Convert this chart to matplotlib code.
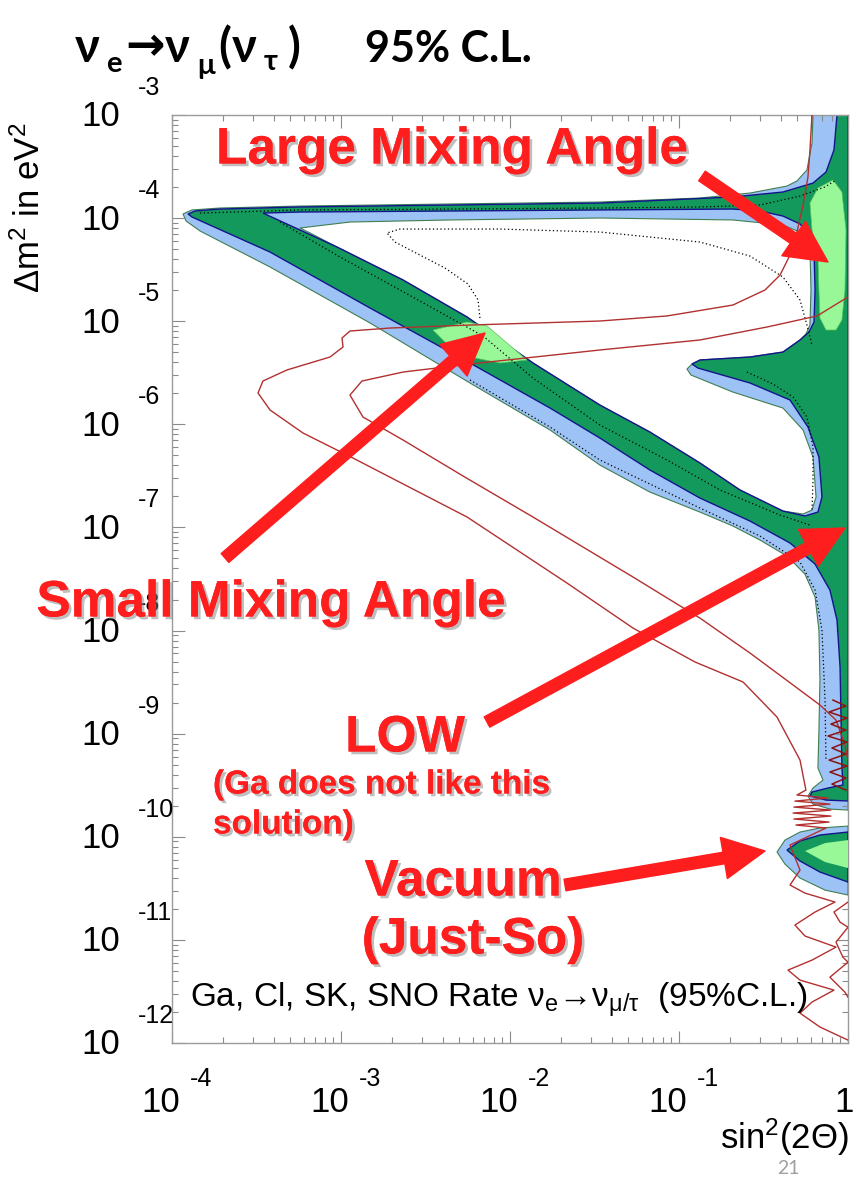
import numpy as np
import matplotlib
matplotlib.use('Agg')
import matplotlib.pyplot as plt
import matplotlib.patheffects as pe
import matplotlib.transforms as mtransforms
from matplotlib.patches import FancyArrowPatch

plt.rcParams['mathtext.fontset'] = 'custom'
plt.rcParams['mathtext.rm'] = 'Liberation Sans'
plt.rcParams['mathtext.it'] = 'Liberation Sans:italic'
plt.rcParams['mathtext.bf'] = 'Liberation Sans:bold'

W, H = 861, 1179

# decades shown on the axes
x_exp = [-4, -3, -2, -1]
y_exp = [-3, -4, -5, -6, -7, -8, -9, -10, -11, -12]

# all contours below are log10(sin^2 2theta), log10(dm^2 / eV^2)
# outer (blue) allowed region
blue_lx = [-0.207, -0.213, -0.243, -0.302, -0.361, -0.580, -0.876, -1.468, -2.355, -3.243,
           -3.716, -3.882, -3.935, -3.917, -3.834, -3.420, -2.828, -2.237, -1.763, -1.468,
           -1.172, -0.876, -0.681, -0.521, -0.361, -0.255, -0.195, -0.172, -0.166, -0.172,
           -0.178, -0.148, -0.207, -0.237, -0.207, -0.107, 0.0, 0.0]
blue_ly = [-3.000, -3.272, -3.533, -3.640, -3.689, -3.757, -3.805, -3.844, -3.863, -3.883,
           -3.902, -3.921, -3.960, -4.028, -4.125, -4.474, -5.017, -5.599, -6.055, -6.395,
           -6.657, -6.851, -6.986, -7.122, -7.277, -7.452, -7.675, -7.995, -8.480, -8.965,
           -9.333, -9.450, -9.527, -9.605, -9.683, -9.731, -9.741, -3.000]

# middle (dark green) region
green_lx = [-0.065, -0.083, -0.130, -0.207, -0.385, -0.681, -1.468, -2.355, -3.243, -3.716,
            -3.864, -3.905, -3.882, -3.420, -2.828, -2.237, -1.763, -1.468, -1.172, -0.876,
            -0.580, -0.343, -0.195, -0.107, -0.065, -0.047, -0.036, -0.030, -0.118, -0.213,
            -0.225, -0.130, 0.0, 0.0]
green_ly = [-3.000, -3.339, -3.553, -3.660, -3.747, -3.795, -3.854, -3.873, -3.892, -3.912,
            -3.931, -3.960, -3.989, -4.329, -4.872, -5.405, -5.842, -6.133, -6.443, -6.715,
            -6.938, -7.151, -7.355, -7.607, -7.898, -8.354, -9.324, -9.498, -9.527, -9.566,
            -9.605, -9.644, -9.653, -3.000]

# hole of the green region (shows blue)
ghole_lx = [-3.462, -3.243, -2.355, -1.468, -0.681, -0.521, -0.385, -0.284, -0.225, -0.201,
            -0.195, -0.201, -0.231, -0.284, -0.385, -0.580, -0.876, -0.923, -0.888, -0.580,
            -0.343, -0.237, -0.172, -0.154, -0.178, -0.255, -0.385, -0.639, -0.876, -1.172,
            -1.468, -1.864, -2.254, -2.633, -3.024, -3.243]
ghole_ly = [-3.951, -3.941, -3.931, -3.921, -3.912, -3.931, -3.980, -4.057, -4.174, -4.329,
            -4.697, -5.008, -5.105, -5.182, -5.299, -5.347, -5.376, -5.415, -5.454, -5.599,
            -5.764, -6.026, -6.317, -6.705, -6.851, -6.889, -6.841, -6.637, -6.375, -6.075,
            -5.813, -5.405, -4.959, -4.600, -4.280, -4.115]

# hole of the blue region (excluded, white)
bhole_lx = [-3.243, -2.947, -2.355, -1.468, -0.681, -0.385, -0.272, -0.225, -0.219, -0.225,
            -0.249, -0.284, -0.385, -0.580, -0.876, -0.923, -0.953, -0.929, -0.681, -0.385,
            -0.266, -0.207, -0.189, -0.213, -0.266, -0.385, -0.639, -0.876, -1.172, -1.468,
            -1.864, -2.254, -2.633, -3.024, -3.183]
bhole_ly = [-4.096, -4.038, -4.018, -3.999, -4.018, -4.067, -4.144, -4.309, -4.697, -5.037,
            -5.124, -5.182, -5.299, -5.347, -5.376, -5.415, -5.464, -5.522, -5.687, -5.842,
            -6.055, -6.317, -6.705, -6.831, -6.870, -6.841, -6.637, -6.375, -6.075, -5.813,
            -5.405, -4.959, -4.600, -4.280, -4.144]

# best-fit (light green) islands
lma_lx = [-0.089, -0.178, -0.225, -0.213, -0.178, -0.172, -0.166, -0.130, -0.071, -0.036,
          -0.018, -0.012, -0.036]
lma_ly = [-3.630, -3.708, -3.854, -4.115, -4.358, -4.697, -4.969, -5.085, -5.085, -4.988,
          -4.697, -4.115, -3.747]
sma_lx = [-2.456, -2.254, -2.136, -1.900, -2.059, -2.237, -2.355]
sma_ly = [-5.085, -5.008, -5.046, -5.376, -5.405, -5.347, -5.250]

# vacuum (just-so) island
vac_blue_lx = [-0.420, -0.373, -0.284, -0.166, 0.0, 0.0, -0.136, -0.284, -0.373]
vac_blue_ly = [-10.148, -10.032, -9.954, -9.915, -9.896, -10.565, -10.517, -10.400, -10.265]
vac_green_lx = [-0.361, -0.284, -0.166, 0.0, 0.0, -0.166, -0.284]
vac_green_ly = [-10.129, -10.041, -9.983, -9.954, -10.439, -10.342, -10.235]
vac_light_lx = [-0.254, -0.136, 0.0, 0.0, -0.136]
vac_light_ly = [-10.138, -10.061, -10.032, -10.303, -10.245]

# Ga rate contours (thin red)
ga1_lx = [-0.213, -0.225, -0.237, -0.266, -0.302, -0.343, -0.402, -0.491, -0.681, -1.071,
          -1.468, -2.237, -2.710, -2.947, -2.994, -2.988, -3.065, -3.320, -3.462, -3.491,
          -3.420, -3.225, -2.929, -2.254, -1.663, -1.272, -0.905, -0.621, -0.420, -0.284,
          -0.249, -0.302, -0.118, -0.314, -0.107, -0.320, -0.101, -0.325, -0.101, -0.320,
          -0.112, -0.308, -0.130, -0.343, -0.284, -0.343, -0.255, -0.077, -0.195, -0.314,
          -0.254, -0.071, -0.213, -0.355, -0.284, -0.083, -0.213, -0.284, -0.166, 0.0]
ga1_ly = [-3.000, -3.339, -3.601, -3.873, -4.135, -4.358, -4.552, -4.697, -4.843, -4.949,
          -4.998, -5.037, -5.066, -5.095, -5.163, -5.250, -5.347, -5.473, -5.580, -5.696,
          -5.861, -6.084, -6.327, -6.899, -7.539, -7.976, -8.305, -8.499, -8.839, -9.256,
          -9.547, -9.595, -9.624, -9.654, -9.683, -9.712, -9.741, -9.770, -9.799, -9.828,
          -9.857, -9.886, -9.915, -10.080, -10.323, -10.468, -10.546, -10.633, -10.730, -10.856,
          -10.963, -11.070, -11.196, -11.293, -11.390, -11.487, -11.603, -11.710, -11.845, -11.972]
ga2_lx = [0.0, -0.183, -0.479, -0.876, -1.468, -2.237, -2.633, -2.876, -2.947, -2.870,
          -2.633, -2.278, -1.864, -1.272, -0.876, -0.580, -0.325, -0.166, -0.071, -0.018, 0.0]
ga2_ly = [-4.765, -4.949, -5.056, -5.182, -5.279, -5.415, -5.493, -5.580, -5.716, -5.929,
          -6.152, -6.501, -6.899, -7.481, -7.879, -8.218, -8.528, -8.722, -8.868, -9.110, -9.256]
ga3_lx = [-0.089, -0.012, -0.112, -0.006, -0.101, -0.012, -0.118, -0.006, -0.095, -0.012,
          -0.112, -0.006, -0.107, -0.012, -0.095, -0.012]
ga3_ly = [-8.674, -8.732, -8.790, -8.849, -8.907, -8.965, -9.023, -9.081, -9.139, -9.198,
          -9.256, -9.314, -9.372, -9.430, -9.489, -9.547]
ga4_lx = [0.0, -0.083, -0.047, 0.0, -0.071, -0.030, 0.0, -0.107, -0.018, 0.0]
ga4_ly = [-10.633, -10.730, -10.828, -10.877, -11.022, -11.168, -11.216, -11.362, -11.507, -11.556]

# dotted contours
dot1_lx = [-2.178, -2.189, -2.249, -2.385, -2.533, -2.681, -2.728, -2.651, -2.059, -1.468,
           -0.876, -0.580, -0.385, -0.284, -0.243, -0.213]
dot1_ly = [-4.969, -4.794, -4.639, -4.484, -4.358, -4.232, -4.144, -4.106, -4.106, -4.135,
           -4.232, -4.368, -4.571, -4.794, -5.037, -5.231]
dot2_lx = [-3.834, -3.243, -2.355, -1.468, -0.876, -0.521, -0.284, -0.136, -0.071]
dot2_ly = [-3.951, -3.921, -3.912, -3.902, -3.892, -3.873, -3.786, -3.698, -3.630]
dot3_lx = [-3.361, -3.006, -2.651, -2.160, -1.864, -1.468, -1.071, -0.757, -0.402, -0.225]
dot3_ly = [-4.038, -4.377, -4.697, -5.143, -5.551, -6.007, -6.346, -6.637, -6.880, -6.977]
dot4_lx = [-0.598, -0.444, -0.325, -0.243, -0.207, -0.207, -0.213]
dot4_ly = [-5.493, -5.609, -5.735, -5.929, -6.220, -6.540, -6.831]
dot5_lx = [-2.237, -1.763, -1.468, -0.876, -0.521, -0.284, -0.195, -0.154, -0.136, -0.130]
dot5_ly = [-5.570, -6.026, -6.346, -6.812, -7.083, -7.335, -7.607, -7.995, -8.674, -9.256]

BLUE = '#9dc2f5'
GREEN = '#13995c'
LIGHT = '#98f898'
NAVY = '#14148c'
RIM = '#3f7f50'
RED_LINE = '#b23030'
DARK_RED = '#8c1212'
RED = '#ff1e1e'


def fx(px):
    return px / W


def fy(py):
    return 1 - py / H


def region(ax, lx, ly, face, edge='none', lw=0.8, z=1, fill=True):
    x = 10.0 ** np.asarray(lx)
    y = 10.0 ** np.asarray(ly)
    if fill:
        ax.fill(x, y, facecolor=face, edgecolor=edge, lw=lw, zorder=z)
    else:
        ax.fill(x, y, facecolor='none', edgecolor=edge, lw=lw, zorder=z)


def curve(ax, lx, ly, **kw):
    ax.plot(10.0 ** np.asarray(lx), 10.0 ** np.asarray(ly), **kw)


def main():
    fig = plt.figure(figsize=(W / 100, H / 100), dpi=100)
    ax = fig.add_axes([172 / W, 1 - 1043 / H, 676 / W, 928 / H])
    ax.set_xscale('log')
    ax.set_yscale('log')
    ax.set_xlim(1e-4, 1)
    ax.set_ylim(1e-12, 1e-3)

    # filled regions, layered
    region(ax, blue_lx, blue_ly, BLUE, RIM, 0.8, 1)
    region(ax, green_lx, green_ly, GREEN, NAVY, 1.0, 2)
    region(ax, ghole_lx, ghole_ly, BLUE, 'none', 0, 3)
    region(ax, bhole_lx, bhole_ly, 'white', 'none', 0, 4)
    region(ax, bhole_lx, bhole_ly, None, RIM, 0.8, 4.1, fill=False)
    region(ax, ghole_lx, ghole_ly, None, NAVY, 1.0, 4.2, fill=False)
    region(ax, lma_lx, lma_ly, LIGHT, '#5cc45c', 0.5, 5)
    region(ax, sma_lx, sma_ly, LIGHT, '#5cc45c', 0.5, 5)
    region(ax, vac_blue_lx, vac_blue_ly, BLUE, RIM, 0.8, 5)
    region(ax, vac_green_lx, vac_green_ly, GREEN, NAVY, 1.0, 5.1)
    region(ax, vac_light_lx, vac_light_ly, LIGHT, 'none', 0, 5.2)

    # dotted contours
    for lx, ly in [(dot1_lx, dot1_ly), (dot2_lx, dot2_ly), (dot3_lx, dot3_ly),
                   (dot4_lx, dot4_ly), (dot5_lx, dot5_ly)]:
        curve(ax, lx, ly, color='black', lw=0.9, ls=(0, (1, 2)), zorder=6)

    # Ga contours
    curve(ax, ga1_lx, ga1_ly, color=RED_LINE, lw=1.0, zorder=7, solid_joinstyle='round')
    curve(ax, ga2_lx, ga2_ly, color=RED_LINE, lw=1.0, zorder=7, solid_joinstyle='round')
    curve(ax, ga3_lx, ga3_ly, color=DARK_RED, lw=1.1, zorder=7)
    curve(ax, ga4_lx, ga4_ly, color=RED_LINE, lw=1.0, zorder=7, solid_joinstyle='round')

    # axes look (ROOT style)
    ax.set_xticks([10.0 ** e for e in x_exp] + [1.0])
    ax.set_yticks([10.0 ** e for e in y_exp])
    ax.xaxis.set_minor_locator(matplotlib.ticker.LogLocator(subs=np.arange(2, 10), numticks=100))
    ax.yaxis.set_minor_locator(matplotlib.ticker.LogLocator(subs=np.arange(2, 10), numticks=100))
    ax.tick_params(which='both', direction='in', top=True, right=True,
                   labelbottom=False, labelleft=False, color='#8a8a8a', width=0.8)
    ax.tick_params(which='major', length=9)
    ax.tick_params(which='minor', length=4.5)
    for s in ax.spines.values():
        s.set_color('#9a9a9a')
        s.set_linewidth(1.0)

    tx = ax.get_xaxis_transform()
    ty = ax.get_yaxis_transform()
    lab = dict(family='Liberation Sans', color='black')
    for e in x_exp:
        ax.text(10.0 ** e, 0, '10', ha='center', va='center', fontsize=25,
                transform=mtransforms.offset_copy(tx, fig=fig, x=-11, y=-59, units='dots'), **lab)
        ax.text(10.0 ** e, 0, str(e), ha='left', va='center', fontsize=18,
                transform=mtransforms.offset_copy(tx, fig=fig, x=18, y=-36, units='dots'), **lab)
    ax.text(1.0, 0, '1', ha='center', va='center', fontsize=25,
            transform=mtransforms.offset_copy(tx, fig=fig, x=-4, y=-59, units='dots'), **lab)
    for e in y_exp:
        ax.text(0, 10.0 ** e, '10', ha='center', va='center', fontsize=25,
                transform=mtransforms.offset_copy(ty, fig=fig, x=-71, y=-2, units='dots'), **lab)
        ax.text(0, 10.0 ** e, str(e), ha='left', va='center', fontsize=18,
                transform=mtransforms.offset_copy(ty, fig=fig, x=-34, y=27, units='dots'), **lab)

    fig.text(fx(30), fy(208), r'$\Delta$m$^{2}$ in eV$^{2}$', rotation=90,
             ha='center', va='center', fontsize=25, **lab)
    fig.text(fx(849), fy(1137), r'sin$^{2}$(2$\Theta$)', ha='right', va='center',
             fontsize=25, **lab)
    ax.text(0.027, 0.046,
            'Ga, Cl, SK, SNO Rate ν$_{\\mathregular{e}}$→ν$_{\\mathregular{μ/τ}}$  (95%C.L.)',
            transform=ax.transAxes, ha='left', va='center', fontsize=24, zorder=8, **lab)

    # title
    tf = dict(family=['Lato', 'DejaVu Sans'], color='black', va='baseline', fontweight='bold')
    fig.text(fx(75), fy(62), 'ν', fontsize=34, **tf)
    fig.text(fx(106), fy(72), 'e', fontsize=21, **tf)
    fig.text(fx(125), fy(60), '→', fontsize=34, fontweight='bold', family='DejaVu Sans',
             color='black', va='baseline')
    fig.text(fx(165), fy(62), 'ν', fontsize=34, **tf)
    fig.text(fx(197), fy(74), 'μ', fontsize=21, **tf)
    fig.text(fx(218), fy(62), '(', fontsize=34, **tf)
    fig.text(fx(232), fy(62), 'ν', fontsize=34, **tf)
    fig.text(fx(264), fy(70), 'τ', fontsize=21, **tf)
    fig.text(fx(288), fy(62), ')', fontsize=34, **tf)
    fig.text(fx(365), fy(62), '95% C.L.', fontsize=31, **tf)

    fig.text(fx(788), fy(1168), '21', fontsize=14, color='#a0a0a0',
             family=['Lato', 'DejaVu Sans'], ha='center', va='center')

    # red annotations
    shadow = [pe.withSimplePatchShadow(offset=(2, -2), shadow_rgbFace='#808080', alpha=0.5),
              pe.Normal()]
    af = dict(family='Liberation Sans', fontweight='bold', color=RED, va='center',
              path_effects=shadow, zorder=10)
    fig.text(fx(452), fy(150), 'Large Mixing Angle', fontsize=37, ha='center', **af)
    fig.text(fx(271), fy(603), 'Small Mixing Angle', fontsize=37, ha='center', **af)
    fig.text(fx(405), fy(738), 'LOW', fontsize=37, ha='center', **af)
    fig.text(fx(213), fy(785), '(Ga does not like this', fontsize=24, ha='left', **af)
    fig.text(fx(213), fy(825), 'solution)', fontsize=24, ha='left', **af)
    fig.text(fx(463), fy(882), 'Vacuum', fontsize=37, ha='center', **af)
    fig.text(fx(473), fy(940), '(Just-So)', fontsize=37, ha='center', **af)

    for tail, head in [((702, 176), (828, 262)), ((225, 558), (485, 333)),
                       ((487, 722), (845, 528)), ((565, 885), (765, 851))]:
        arr = FancyArrowPatch((fx(tail[0]), fy(tail[1])), (fx(head[0]), fy(head[1])),
                              transform=fig.transFigure,
                              arrowstyle='simple,head_length=1.5,head_width=1.5,tail_width=0.42',
                              mutation_scale=20, color=RED, shrinkA=0, shrinkB=0, zorder=9)
        fig.add_artist(arr)

    fig.savefig('out.png', dpi=100)


if __name__ == '__main__':
    main()
